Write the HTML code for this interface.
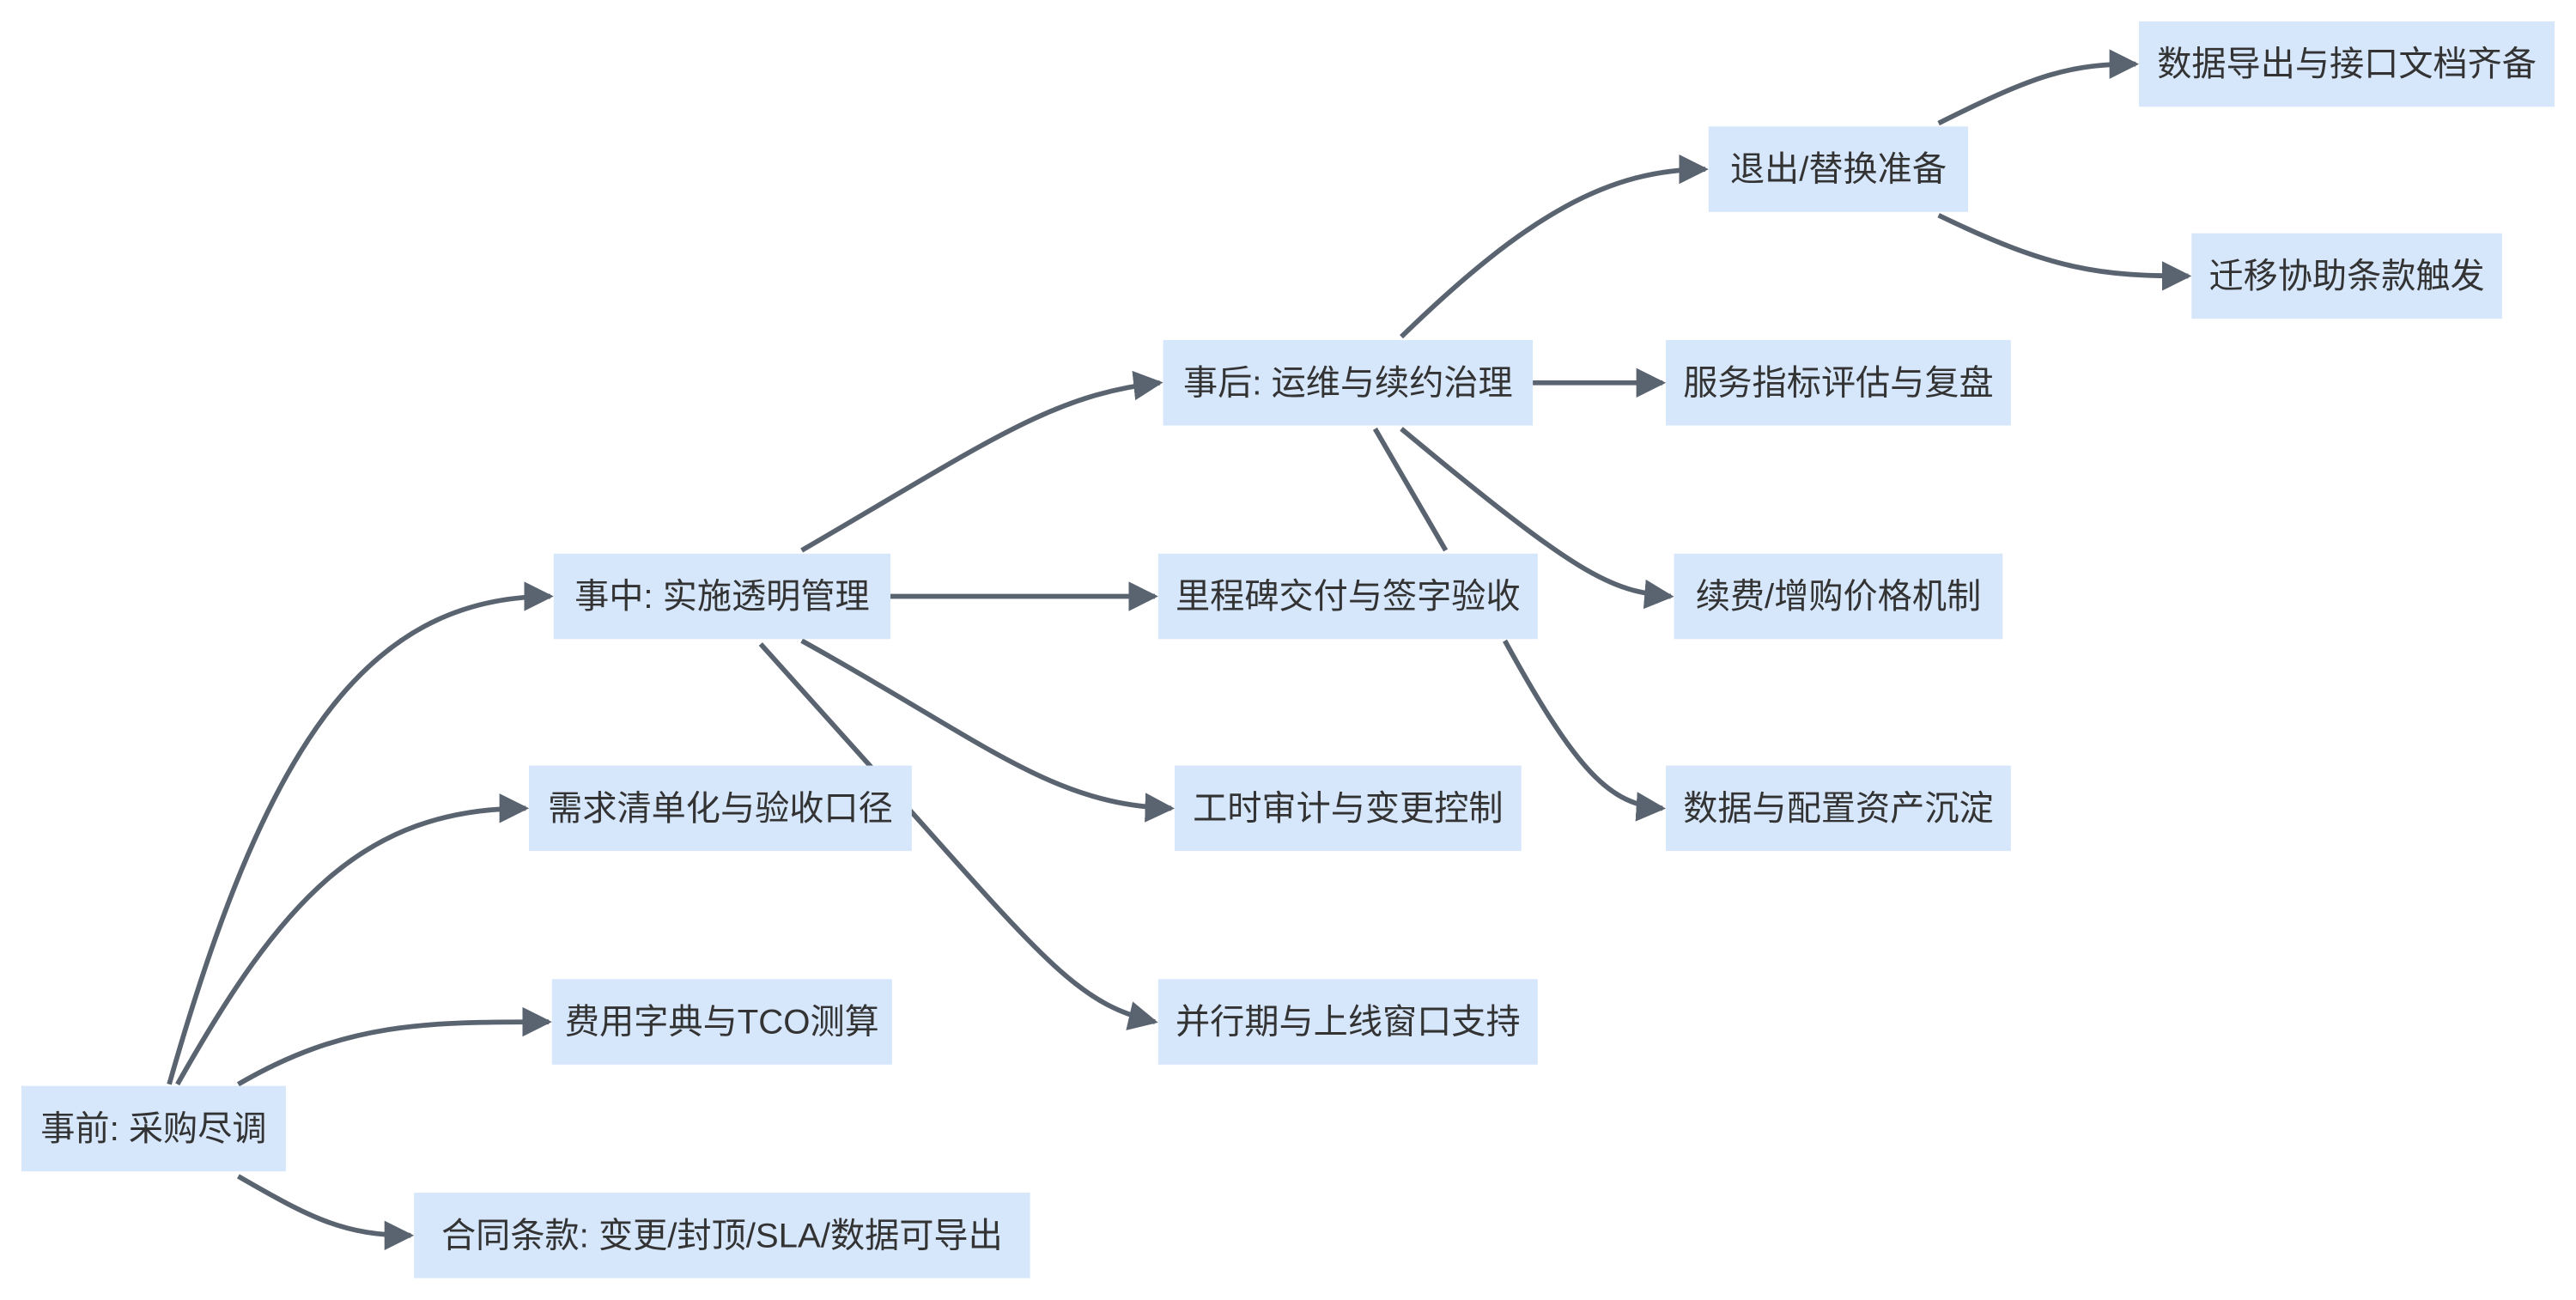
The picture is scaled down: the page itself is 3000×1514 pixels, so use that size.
<!DOCTYPE html>
<html><head><meta charset="utf-8">
<style>
html,body{margin:0;padding:0;background:#fff;}
svg{display:block;}
text{font-family:"Liberation Sans","Noto Sans CJK SC",sans-serif;font-size:21px;fill:#333;}
</style></head>
<body>
<svg width="3000" height="1514" viewBox="0 0 1568 791.3" xmlns="http://www.w3.org/2000/svg">
<defs>
<marker id="a" markerUnits="userSpaceOnUse" markerWidth="18" markerHeight="18" refX="16" refY="9" orient="auto">
<path d="M0,0 L18,9 L0,18 z" fill="#5a6370"/>
</marker>
</defs>
<g fill="none" stroke="#5a6370" stroke-width="3">
<path d="M103,660 C160,460 220,363 335,363" marker-end="url(#a)"/>
<path d="M108,660 C170,550 220,492 320,492" marker-end="url(#a)"/>
<path d="M145,660 C210,622 260,622 334,622" marker-end="url(#a)"/>
<path d="M145,716 C190,742 210,752 250,752" marker-end="url(#a)"/>
<path d="M488,335 C600,270 640,240 706,233" marker-end="url(#a)"/>
<path d="M542,363 L703,363" marker-end="url(#a)"/>
<path d="M488,390 C600,452 640,490 713,492" marker-end="url(#a)"/>
<path d="M463,392 L560,500 C640,590 660,612 703,622" marker-end="url(#a)"/>
<path d="M853,205 C930,130 980,103 1038,103" marker-end="url(#a)"/>
<path d="M933,233 L1012,233" marker-end="url(#a)"/>
<path d="M853,261 C960,350 980,360 1017,363" marker-end="url(#a)"/>
<path d="M837,261 L880,335 M916,390 C960,470 980,490 1012,492" marker-end="url(#a)"/>
<path d="M1180,75 C1240,45 1260,39 1300,39" marker-end="url(#a)"/>
<path d="M1180,131 C1250,165 1280,168 1332,168" marker-end="url(#a)"/>
</g>
<g fill="#d6e6fb">
<rect x="13" y="661" width="161" height="52"/>
<rect x="252" y="726" width="375" height="52"/>
<rect x="336" y="596" width="207" height="52"/>
<rect x="322" y="466" width="233" height="52"/>
<rect x="337" y="337" width="205" height="52"/>
<rect x="705" y="337" width="231" height="52"/>
<rect x="715" y="466" width="211" height="52"/>
<rect x="705" y="596" width="231" height="52"/>
<rect x="708" y="207" width="225" height="52"/>
<rect x="1014" y="207" width="210" height="52"/>
<rect x="1019" y="337" width="200" height="52"/>
<rect x="1014" y="466" width="210" height="52"/>
<rect x="1040" y="77" width="158" height="52"/>
<rect x="1302" y="13" width="253" height="52"/>
<rect x="1334" y="142" width="189" height="52"/>
</g>
<g text-anchor="middle" dominant-baseline="central">
<text x="93.5" y="687">事前: 采购尽调</text>
<text x="439.5" y="752">合同条款: 变更/封顶/SLA/数据可导出</text>
<text x="439.5" y="622">费用字典与TCO测算</text>
<text x="438.5" y="492">需求清单化与验收口径</text>
<text x="439.5" y="363">事中: 实施透明管理</text>
<text x="820.5" y="363">里程碑交付与签字验收</text>
<text x="820.5" y="492">工时审计与变更控制</text>
<text x="820.5" y="622">并行期与上线窗口支持</text>
<text x="820.5" y="233">事后: 运维与续约治理</text>
<text x="1119" y="233">服务指标评估与复盘</text>
<text x="1119" y="363">续费/增购价格机制</text>
<text x="1119" y="492">数据与配置资产沉淀</text>
<text x="1119" y="103">退出/替换准备</text>
<text x="1428.5" y="39">数据导出与接口文档齐备</text>
<text x="1428.5" y="168">迁移协助条款触发</text>
</g>
</svg>
</body></html>
